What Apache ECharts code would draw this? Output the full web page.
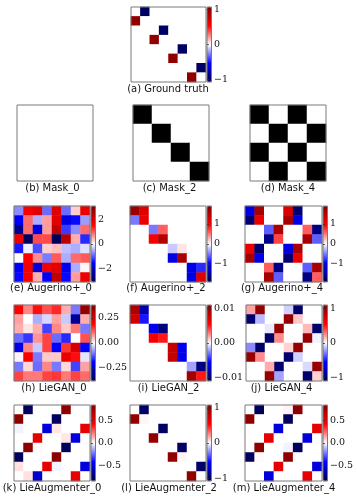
<!DOCTYPE html>
<html><head><meta charset="utf-8">
<script src="https://cdn.jsdelivr.net/npm/echarts@6/dist/echarts.min.js"></script>
<style>html,body{margin:0;padding:0;background:#fff}#c{width:357px;height:499px}</style>
</head><body><div id="c"></div>
<script>
// ---------- data ----------
const groundTruth = [
 [0,-1,0,0,0,0,0,0],[1,0,0,0,0,0,0,0],[0,0,0,-1,0,0,0,0],[0,0,1,0,0,0,0,0],
 [0,0,0,0,0,-1,0,0],[0,0,0,0,1,0,0,0],[0,0,0,0,0,0,0,-1],[0,0,0,0,0,0,1,0]];
const mask0 = [[0,0,0,0],[0,0,0,0],[0,0,0,0],[0,0,0,0]];
const mask2 = [[1,0,0,0],[0,1,0,0],[0,0,1,0],[0,0,0,1]];
const mask4 = [[1,0,1,0],[0,1,0,1],[1,0,1,0],[0,1,0,1]];
const augerino0 = [
 [-0.7,1.7,1.9,-0.9,1.9,-0.9,0.3,1.8],
 [-1.6,0.9,-0.5,0.6,1.9,-1.8,-1.5,-0.6],
 [-2.5,0.9,-1.8,0.6,2.3,-1.2,-0.7,0.9],
 [1.8,-2.9,1.1,1.1,-3.0,2.4,0.5,-1.3],
 [-1.4,-0.1,-1.1,0.3,0.4,-0.4,-0.5,-0.2],
 [0.0,1.6,0.7,-0.8,1.0,-0.5,0.9,1.0],
 [-1.6,1.7,-1.9,1.7,1.9,-1.7,-0.5,0.05],
 [-1.5,1.7,0.5,-1.6,2.3,-1.5,0.6,1.8]];
const augerino2 = [
 [1.7,1.2,0,0,0,0,0,0],[-0.5,1.1,0,0,0,0,0,0],
 [0,0,-0.5,0.6,0,0,0,0],[0,0,1.0,1.5,0,0,0,0],
 [0,0,0,0,-0.2,0.1,0,0],[0,0,0,0,-1.1,1.6,0,0],
 [0,0,0,0,0,0,-1.1,-0.8],[0,0,0,0,0,0,-1.1,1.2]];
const augerino4 = [
 [-1.1,1.6,0,0,1.2,-1.7,0,0],[-1.7,1.1,0,0,1.6,-1.1,0,0],
 [0,0,-0.6,1.6,0,0,0.6,-1.6],[0,0,-1.6,0.7,0,0,1.6,-0.6],
 [1.1,-1.7,0,0,-1.1,1.6,0,0],[1.6,-1.1,0,0,-1.7,1.1,0,0],
 [0,0,0.6,-1.6,0,0,-0.6,1.6],[0,0,1.6,-0.6,0,0,-1.6,0.6]];
const liegan0 = [
 [0.19,0.09,0.18,0.13,0.16,0.06,-0.1,0.35],
 [0.07,0.0,-0.06,-0.03,0.07,-0.04,-0.3,0.06],
 [0.06,0.02,0.06,-0.14,0.09,0.04,0.1,-0.1],
 [-0.11,-0.15,0.08,0.14,-0.11,-0.16,0.0,0.13],
 [-0.22,0.09,-0.04,0.14,-0.19,0.15,0.25,-0.19],
 [0.01,0.2,-0.1,0.04,0.04,0.22,0.18,-0.02],
 [-0.1,0.03,-0.11,0.09,-0.1,0.03,-0.14,0.07],
 [0.14,0.1,0.1,0.14,0.15,0.1,0.14,0.11]];
const liegan2 = [
 [0.009,-0.008,0,0,0,0,0,0],[0.0075,-0.005,0,0,0,0,0,0],
 [0,0,-0.006,-0.0095,0,0,0,0],[0,0,0.006,0.005,0,0,0,0],
 [0,0,0,0,0.008,-0.006,0,0],[0,0,0,0,0.008,-0.006,0,0],
 [0,0,0,0,0,0,-0.002,-0.0095],[0,0,0,0,0,0,0.0095,0.005]];
const liegan4 = [
 [0.2,1.0,0,0,-0.1,-1.0,0,0],[-1.0,-0.15,0,0,1.0,0.12,0,0],
 [0,0,-0.05,1.0,0,0,0.15,-1.0],[0,0,-1.0,0.25,0,0,1.0,-0.03],
 [-0.25,-1.0,0,0,0.1,1.0,0,0],[1.0,0.25,0,0,-1.0,-0.1,0,0],
 [0,0,0.18,-1.0,0,0,-0.08,1.0],[0,0,1.0,-0.2,0,0,-1.0,0.1]];
const lieaug0 = [
 [0,-0.8,0,0,0,0.8,0,0],[0.8,0,0,0,-0.8,0,0,0],
 [-0.02,0,0,-0.5,0.04,0,0,0.5],[0,0,0.5,0,0,0.04,-0.5,0],
 [0,0.8,0.01,0,0,-0.8,0,0],[-0.8,0,0,0,0.8,0,0,0],
 [0.05,0,0,0.5,-0.02,0,0,-0.5],[0,0.05,-0.55,0,0,0,0.5,0]];
const lieaug2 = [
 [0,-1,0,0,0,0,0,0],[1,0.02,0,0,0,0,0,0],[0,0,0,-1,0,0,0,0],[0,0,1,0,0,0,0,0],
 [0,0,0,0,0,-1,0,0],[0,0,0,0,1,0.02,0,0],[0,0,0,0,0,0,0,-1],[0,0,0,0,0,0,1,0]];
const lieaug4 = [
 [0,-0.8,0,0,0.02,0.8,0,0],[0.8,0,0,0,-0.8,0,0,0],
 [0,0,0,-0.5,0,0,0,0.5],[0,0,0.5,0,0,0,-0.5,0],
 [0,0.8,0,0,-0.02,-0.8,0,0],[-0.8,0.01,0,0,0.8,0,0,0],
 [0,0,0,0.5,0,0,0,-0.5],[0,0,-0.5,0,0,0,0.5,0]];

const captions = ['(a) Ground truth','(b) Mask_0','(c) Mask_2','(d) Mask_4',
 '(e) Augerino+_0','(f) Augerino+_2','(g) Augerino+_4',
 '(h) LieGAN_0','(i) LieGAN_2','(j) LieGAN_4',
 '(k) LieAugmenter_0','(l) LieAugmenter_2','(m) LieAugmenter_4'];
const matrices = [groundTruth,mask0,mask2,mask4,augerino0,augerino2,augerino4,
 liegan0,liegan2,liegan4,lieaug0,lieaug2,lieaug4];
const ranges = [1.07,1,1,1,3.1,1.9,1.9,0.38,0.011,1.1,0.84,1.08,0.84];
const tickValues = [[-1,0,1],null,null,null,[-2,0,2],[-1,0,1],[-1,0,1],
 [-0.25,0,0.25],[-0.01,0,0.01],[-1,0,1],[-0.5,0,0.5],[-1,0,1],[-0.5,0,0.5]];
const tickLabels = [['−1','0','1'],null,null,null,['−2','0','2'],['−1','0','1'],['−1','0','1'],
 ['−0.25','0.00','0.25'],['−0.01','0.00','0.01'],['−1','0','1'],['−0.5','0.0','0.5'],['−1','0','1'],['−0.5','0.0','0.5']];

// ---------- layout (positions, not data) ----------
const boxes = [[131,7,75,75],[17,105,76,76],[133,105,76,76],[250,105,76,76],
 [14,206,76,76],[130,206,76,76],[245,206,77,76],
 [14,305,76,76],[130,305,76,76],[246,305,76,76],
 [14,405,76,76],[130,405,76,76],[245,405,77,76]];
const capPos = [[168,91],[52.5,190],[169.5,190],[288,190],
 [51,290],[166,290],[282,290],[54,390],[168.5,390],[281.5,390],[52,490],[169,490],[284,490]];
const seismic = ['#00004c','#0000ff','#ffffff','#ff0000','#800000'];
const borderCol = '#7a7a7a';

const grid=[],xAxis=[],yAxis=[],series=[],visualMap=[],title=[];
matrices.forEach((m,i)=>{
  const [L,T,W,H] = boxes[i];
  const cats = m.map((_,k)=>String(k));
  const g = grid.length;
  grid.push({left:L,top:T,width:W,height:H,show:true,borderColor:borderCol,borderWidth:1,z:10,backgroundColor:'rgba(0,0,0,0)'});
  xAxis.push({type:'category',gridIndex:g,data:cats,show:false});
  yAxis.push({type:'category',gridIndex:g,data:cats,inverse:true,show:false});
  const data=[];
  m.forEach((row,r)=>row.forEach((v,c)=>data.push([c,r,v])));
  const s = series.length;
  series.push({type:'heatmap',xAxisIndex:xAxis.length-1,yAxisIndex:yAxis.length-1,data,
    itemStyle:{borderWidth:0},emphasis:{disabled:true},silent:true,progressive:0});
  const isMask = tickValues[i]===null;
  const R = ranges[i];
  const cbL = L+W+1, cbW = 4.5;
  if (isMask) {
    visualMap.push({type:'continuous',seriesIndex:s,min:0,max:1,inRange:{color:['#ffffff','#000000']},show:false});
  } else {
    visualMap.push({type:'continuous',seriesIndex:s,min:-R,max:R,inRange:{color:seismic},
      show:true,calculable:false,hoverLink:false,left:cbL,top:T,itemWidth:cbW,itemHeight:H,padding:0,orient:'vertical',
      textStyle:{color:'rgba(0,0,0,0)'}});
    const g2 = grid.length;
    grid.push({left:cbL,top:T,width:cbW,height:H,show:true,borderColor:borderCol,borderWidth:1,z:10,backgroundColor:'rgba(0,0,0,0)'});
    xAxis.push({type:'value',gridIndex:g2,show:false,min:0,max:1});
    const tv = tickValues[i], tl = tickLabels[i];
    yAxis.push({type:'value',gridIndex:g2,min:-R,max:R,position:'right',z:11,
      axisLine:{show:false},splitLine:{show:false},
      axisTick:{show:true,length:2,customValues:tv,lineStyle:{color:'#333',width:0.8}},
      axisLabel:{show:true,customValues:tv,margin:2.5,fontFamily:'DejaVu Serif',fontSize:9.5,color:'#111',
        formatter:(v)=>{let k=tv.findIndex(t=>Math.abs(t-v)<1e-9);return k>=0?tl[k]:'';}}});
  }
  title.push({text:captions[i],left:capPos[i][0],top:capPos[i][1]-7,textAlign:'center',padding:0,
    textStyle:{fontFamily:'DejaVu Sans',fontSize:10,fontWeight:'normal',color:'#111'}});
});

const chart = echarts.init(document.getElementById('c'),null,{renderer:'canvas'});
chart.setOption({animation:false,backgroundColor:'#fff',title,grid,xAxis,yAxis,visualMap,series});
</script></body></html>
